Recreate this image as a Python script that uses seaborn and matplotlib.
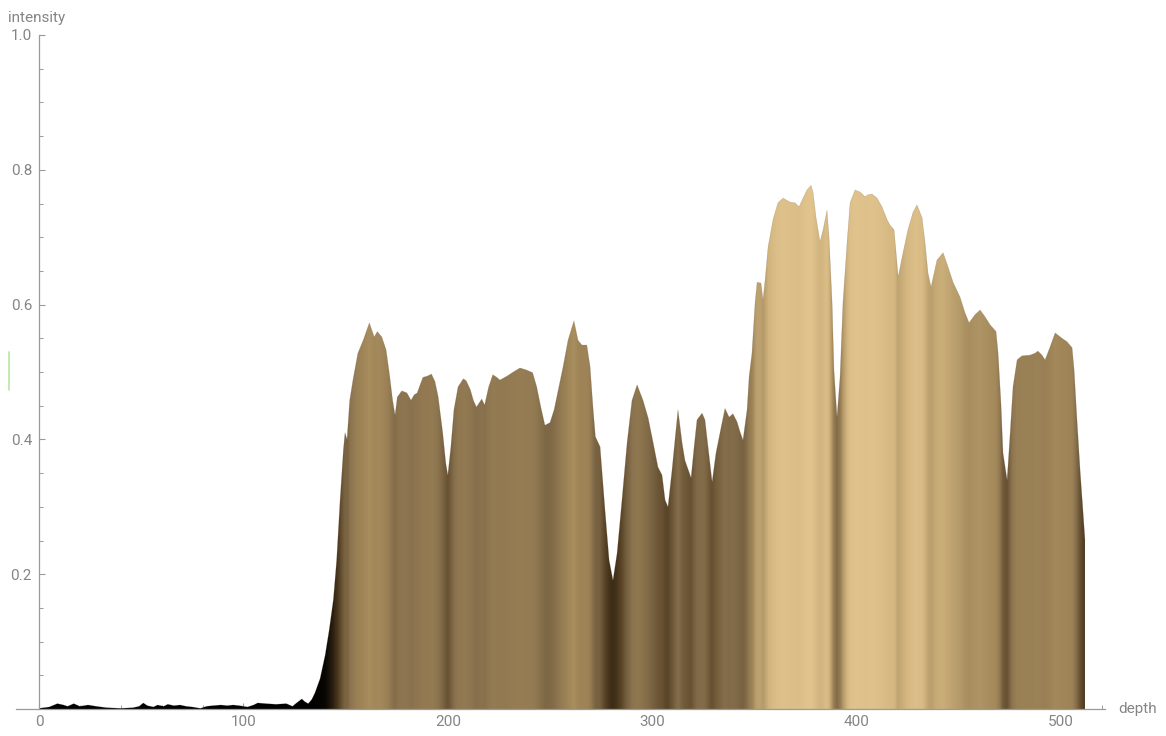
import numpy as np
import matplotlib
matplotlib.use("Agg")
import matplotlib.pyplot as plt
import seaborn as sns
from matplotlib.colors import LinearSegmentedColormap
from matplotlib.patches import Polygon
from matplotlib.ticker import MultipleLocator
from matplotlib.lines import Line2D

# ---------------- data ----------------
depth = [0, 5, 9, 12, 14, 17, 20, 24, 28, 33, 40, 46, 49, 51, 53, 56, 58, 61, 63, 66,
         69, 72, 75, 79, 82, 85, 89, 92, 95, 98, 102, 105, 107, 111, 116, 121, 124, 126,
         128.6, 130, 131.7, 133.4, 135, 137.5, 140, 142, 144, 145.6, 147.3, 148.9, 149.7,
         150.7, 152, 153.7, 156, 158.6, 161.6, 164, 165.5, 167.7, 169.8, 171.4, 173, 174.2,
         175.3, 177.5, 180, 182, 183.5, 185, 187.8, 190, 192, 193.7, 195.3, 197.5, 199,
         200, 201.5, 203, 205, 207.6, 209, 211, 212.5, 214, 216.6, 218, 220, 222, 224,
         225.5, 229, 232, 235.3, 238.5, 241.5, 243.5, 245.5, 247.5, 250, 252, 254, 256.4,
         258.8, 261.7, 263.7, 265.6, 268, 269.6, 271, 272.2, 274.5, 276.9, 278.9, 280.8,
         282.8, 285.2, 287.7, 290.1, 292.6, 295.5, 298, 300.4, 302.8, 304.8, 306.3, 307.7,
         309.7, 311.6, 312.6, 314.6, 316, 319, 320.5, 321.9, 324.4, 325.8, 327.3, 329.3,
         331.2, 333.7, 335.6, 337.6, 339.5, 341.5, 343, 344.4, 346.4, 347.4, 348.8, 350.3,
         351.3, 353.2, 354.2, 355.2, 356.7, 359.1, 361.5, 364, 367.4, 369.9, 371.8, 373.8,
         375.7, 377.7, 378.7, 380.1, 382.1, 383.6, 385.5, 386.5, 388, 388.9, 390.4, 391.9,
         393.3, 395.3, 396.8, 399.2, 401.7, 404.1, 405.6, 407.5, 410, 412.4, 414.9, 416.3,
         418.3, 419.3, 420.3, 422.7, 425.1, 427.6, 429.5, 432, 433.5, 434.9, 436.4, 439.3,
         442.3, 444.7, 447.2, 450.6, 453, 455, 457.9, 460.4, 462.8, 465.3, 468.2, 469.2,
         470.6, 471.6, 473.6, 475, 476.5, 478.5, 480.9, 484.8, 487.3, 488.7, 490.7, 492.2,
         494.6, 497.1, 500.5, 502.9, 505.4, 506.4, 507.8, 509.3, 510.8, 511.7]
intensity = [0.001, 0.003, 0.008, 0.006, 0.004, 0.008, 0.004, 0.006, 0.004, 0.002, 0.001,
             0.002, 0.004, 0.009, 0.005, 0.003, 0.006, 0.004, 0.007, 0.005, 0.006, 0.004,
             0.003, 0.001, 0.004, 0.005, 0.006, 0.005, 0.006, 0.005, 0.003, 0.006, 0.009,
             0.008, 0.007, 0.008, 0.004, 0.009, 0.015, 0.011, 0.008, 0.014, 0.024, 0.045,
             0.080, 0.118, 0.162, 0.22, 0.31, 0.384, 0.41, 0.40, 0.458, 0.49, 0.528, 0.547,
             0.573, 0.552, 0.56, 0.552, 0.533, 0.498, 0.458, 0.436, 0.463, 0.472, 0.469,
             0.458, 0.466, 0.469, 0.492, 0.494, 0.497, 0.486, 0.463, 0.41, 0.365, 0.347,
             0.389, 0.444, 0.478, 0.49, 0.487, 0.474, 0.458, 0.448, 0.46, 0.451, 0.478,
             0.496, 0.492, 0.488, 0.494, 0.5, 0.506, 0.503, 0.499, 0.478, 0.448, 0.421,
             0.425, 0.444, 0.473, 0.508, 0.547, 0.576, 0.547, 0.54, 0.54, 0.508, 0.448,
             0.404, 0.389, 0.295, 0.221, 0.191, 0.231, 0.31, 0.395, 0.458, 0.481, 0.458,
             0.432, 0.396, 0.359, 0.347, 0.31, 0.30, 0.355, 0.414, 0.444, 0.395, 0.369,
             0.343, 0.389, 0.429, 0.439, 0.429, 0.389, 0.337, 0.38, 0.418, 0.446, 0.433,
             0.438, 0.426, 0.411, 0.399, 0.444, 0.493, 0.528, 0.602, 0.633, 0.632, 0.607,
             0.636, 0.686, 0.726, 0.751, 0.758, 0.752, 0.751, 0.745, 0.758, 0.77, 0.777,
             0.766, 0.73, 0.693, 0.711, 0.74, 0.70, 0.602, 0.503, 0.433, 0.493, 0.602,
             0.691, 0.751, 0.77, 0.767, 0.76, 0.763, 0.764, 0.758, 0.745, 0.726, 0.718,
             0.711, 0.677, 0.641, 0.677, 0.711, 0.737, 0.748, 0.729, 0.691, 0.647, 0.626,
             0.666, 0.677, 0.656, 0.633, 0.611, 0.588, 0.573, 0.585, 0.592, 0.582, 0.57,
             0.56, 0.528, 0.454, 0.38, 0.34, 0.404, 0.478, 0.518, 0.524, 0.525, 0.528,
             0.531, 0.525, 0.518, 0.537, 0.558, 0.55, 0.545, 0.536, 0.503, 0.429, 0.355,
             0.291, 0.251]
x_ticks = [0, 100, 200, 300, 400, 500]
y_ticks = [0.2, 0.4, 0.6, 0.8, 1.0]
y_tick_labels = ["0.2", "0.4", "0.6", "0.8", "1.0"]
x_label = "depth"
y_label = "intensity"

# ---------------- style ----------------
sns.set_theme(style="white")
plt.rcParams['font.family'] = ['Roboto', 'DejaVu Sans']

W, H = 1166, 736
fig = plt.figure(figsize=(W / 100, H / 100), dpi=100)
ax = fig.add_axes([16 / W, 27 / H, 1089 / W, 674 / H])
ax.set_facecolor("white")

# colour of each depth column follows its intensity (black -> tan)
stops = [(0.00, "#000000"), (0.08 / 0.8, "#0a0703"), (0.20 / 0.8, "#3f2e18"),
         (0.30 / 0.8, "#5a4528"), (0.40 / 0.8, "#786241"), (0.47 / 0.8, "#8d7550"),
         (0.55 / 0.8, "#a08658"), (0.62 / 0.8, "#b89d6c"), (0.70 / 0.8, "#d2b57f"),
         (0.78 / 0.8, "#e2c48e"), (1.0, "#e4c690")]
cmap = LinearSegmentedColormap.from_list("core", stops)

d = np.asarray(depth, float)
v = np.asarray(intensity, float)
xs = np.linspace(d[0], d[-1], 1400)
cols = cmap(np.clip(np.interp(xs, d, v) / 0.8, 0, 1))[:, :3]
img = ax.imshow(cols[np.newaxis, :, :], extent=[d[0], d[-1], 0, 1], origin="lower",
                aspect="auto", interpolation="bilinear", zorder=2)

verts = [(d[0], 0)] + list(zip(d, v)) + [(d[-1], 0)]
poly = Polygon(verts, closed=True, facecolor="none", edgecolor="none",
               transform=ax.transData)
ax.add_patch(poly)
img.set_clip_path(poly)

sns.lineplot(x=d, y=v, ax=ax, color="#7a6545", linewidth=0.35, alpha=0.35, zorder=3)

ax.set_xlim(-11.25, 521.5)
ax.set_ylim(0, 1.0)

# Mathematica-like axes
for s in ["top", "right"]:
    ax.spines[s].set_visible(False)
ax.spines["left"].set_position(("data", 0))
ax.spines["left"].set_bounds(0, 1.0)
for s in ["left", "bottom"]:
    ax.spines[s].set_color("#9a9a9a")
    ax.spines[s].set_linewidth(0.9)
    ax.spines[s].set_zorder(4)

ax.set_xticks(x_ticks)
ax.set_xticklabels([str(t) for t in x_ticks])
ax.xaxis.set_minor_locator(MultipleLocator(20))
ax.set_yticks(y_ticks)
ax.set_yticklabels(y_tick_labels)
ax.yaxis.set_minor_locator(MultipleLocator(0.05))
ax.tick_params(axis="both", which="both", bottom=True, left=True, top=False, right=False)
ax.tick_params(axis="both", which="major", direction="in", length=4.5, width=0.8,
               color="#9a9a9a", labelcolor="#858585", labelsize=11, pad=4)
ax.tick_params(axis="both", which="minor", direction="in", length=2.6, width=0.7,
               color="#9a9a9a")
ax.tick_params(axis="y", which="major", pad=5)
ax.grid(False)

fig.text(8 / W, 1 - 18 / H, y_label, ha="left", va="center", fontsize=11,
         color="#858585")
fig.text(1118 / W, 1 - 709 / H, x_label, ha="left", va="center", fontsize=11,
         color="#858585")

# faint green mark at the left edge seen in the reference
fig.add_artist(Line2D([8.5 / W, 8.5 / W], [1 - 352 / H, 1 - 390 / H],
                      transform=fig.transFigure, color="#b8e6a4", linewidth=1.2))

fig.savefig("out.png", dpi=100, facecolor="white")
